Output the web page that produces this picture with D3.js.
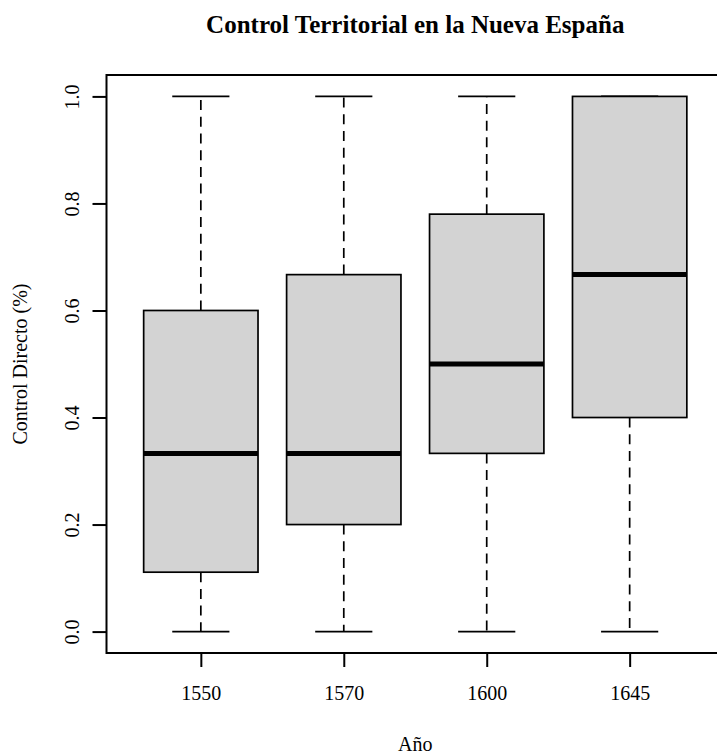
<!DOCTYPE html>
<html>
<head>
<meta charset="utf-8">
<script src="https://cdn.jsdelivr.net/npm/d3@7"></script>
<style>
  body { margin: 0; background: #fff; }
  svg { display: block; font-family: "Liberation Serif", "Times New Roman", serif; }
</style>
</head>
<body>
<div id="chart"></div>
<script>
// boxplot stats
var years = ["1550", "1570", "1600", "1645"];
var mins = [0, 0, 0, 0];
var q1s = [0.111, 0.2, 0.333, 0.4];
var medians = [0.333, 0.333, 0.5, 0.667];
var q3s = [0.6, 0.667, 0.78, 1.0];
var maxs = [1.0, 1.0, 1.0, 1.0];
var yTicks = [0, 0.2, 0.4, 0.6, 0.8, 1.0];

var width = 717, height = 754;
var plotLeft = 106.5, plotRight = 724, plotTop = 75, plotBottom = 653;

var boxes = years.map(function(y, i) {
  return {year: y, idx: i + 1, min: mins[i], q1: q1s[i], med: medians[i], q3: q3s[i], max: maxs[i]};
});

var svg = d3.select("#chart").append("svg")
  .attr("width", width)
  .attr("height", height);

// R style: 4% padding on each axis
var x = d3.scaleLinear().domain([0.34, 4.66]).range([plotLeft, plotRight]);
var y = d3.scaleLinear().domain([-0.04, 1.04]).range([plotBottom, plotTop]);

var unit = x(2) - x(1);
var boxHalf = unit * 0.4;
var capHalf = boxHalf * 0.5;

var g = svg.append("g");

// whiskers
g.selectAll(".whisk-lo").data(boxes).enter().append("line")
  .attr("x1", function(d) { return x(d.idx); })
  .attr("x2", function(d) { return x(d.idx); })
  .attr("y1", function(d) { return y(d.q1); })
  .attr("y2", function(d) { return y(d.min); })
  .attr("stroke", "#000").attr("stroke-width", 1.7)
  .attr("stroke-dasharray", "10,6.7");

g.selectAll(".whisk-hi").data(boxes).enter().append("line")
  .attr("x1", function(d) { return x(d.idx); })
  .attr("x2", function(d) { return x(d.idx); })
  .attr("y1", function(d) { return y(d.q3); })
  .attr("y2", function(d) { return y(d.max); })
  .attr("stroke", "#000").attr("stroke-width", 1.7)
  .attr("stroke-dasharray", "10,6.7");

// staples
["min", "max"].forEach(function(k) {
  g.selectAll(".cap-" + k).data(boxes).enter().append("line")
    .attr("x1", function(d) { return x(d.idx) - capHalf; })
    .attr("x2", function(d) { return x(d.idx) + capHalf; })
    .attr("y1", function(d) { return y(d[k]); })
    .attr("y2", function(d) { return y(d[k]); })
    .attr("stroke", "#000").attr("stroke-width", 1.7);
});

// boxes
g.selectAll(".box").data(boxes).enter().append("rect")
  .attr("x", function(d) { return x(d.idx) - boxHalf; })
  .attr("width", boxHalf * 2)
  .attr("y", function(d) { return y(d.q3); })
  .attr("height", function(d) { return y(d.q1) - y(d.q3); })
  .attr("fill", "#d3d3d3")
  .attr("stroke", "#000").attr("stroke-width", 1.7);

// medians
g.selectAll(".med").data(boxes).enter().append("line")
  .attr("x1", function(d) { return x(d.idx) - boxHalf; })
  .attr("x2", function(d) { return x(d.idx) + boxHalf; })
  .attr("y1", function(d) { return y(d.med); })
  .attr("y2", function(d) { return y(d.med); })
  .attr("stroke", "#000").attr("stroke-width", 5);

// plot frame
svg.append("rect")
  .attr("x", plotLeft).attr("y", plotTop)
  .attr("width", plotRight - plotLeft).attr("height", plotBottom - plotTop)
  .attr("fill", "none").attr("stroke", "#000").attr("stroke-width", 2);

// axes
var yAxis = d3.axisLeft(y).tickValues(yTicks).tickFormat(d3.format(".1f"))
  .tickSize(14).tickSizeOuter(0);
var yg = svg.append("g").attr("transform", "translate(" + plotLeft + ",0)").call(yAxis);
yg.select(".domain").remove();
yg.selectAll(".tick line").attr("stroke-width", 2);
yg.selectAll(".tick text")
  .attr("transform", "rotate(-90)")
  .attr("x", 0).attr("y", -28).attr("dy", 0)
  .attr("text-anchor", "middle")
  .attr("font-size", 20)
  .attr("font-family", "Liberation Serif, Times New Roman, serif")
  .attr("fill", "#000");

var xAxis = d3.axisBottom(x).tickValues([1, 2, 3, 4])
  .tickFormat(function(d) { return years[d - 1]; })
  .tickSize(14).tickSizeOuter(0);
var xg = svg.append("g").attr("transform", "translate(0," + plotBottom + ")").call(xAxis);
xg.select(".domain").remove();
xg.selectAll(".tick line").attr("stroke-width", 2);
xg.selectAll(".tick text")
  .attr("y", 47).attr("dy", 0)
  .attr("font-size", 20)
  .attr("font-family", "Liberation Serif, Times New Roman, serif")
  .attr("fill", "#000");

var cx = (plotLeft + plotRight) / 2;

// title and labels
svg.append("text")
  .attr("x", cx).attr("y", 33)
  .attr("text-anchor", "middle")
  .attr("font-size", 25).attr("font-weight", "bold")
  .text("Control Territorial en la Nueva España");

svg.append("text")
  .attr("x", cx).attr("y", 751)
  .attr("text-anchor", "middle")
  .attr("font-size", 20)
  .text("Año");

svg.append("text")
  .attr("transform", "translate(27," + ((plotTop + plotBottom) / 2) + ") rotate(-90)")
  .attr("text-anchor", "middle")
  .attr("font-size", 20)
  .text("Control Directo (%)");
</script>
</body>
</html>
